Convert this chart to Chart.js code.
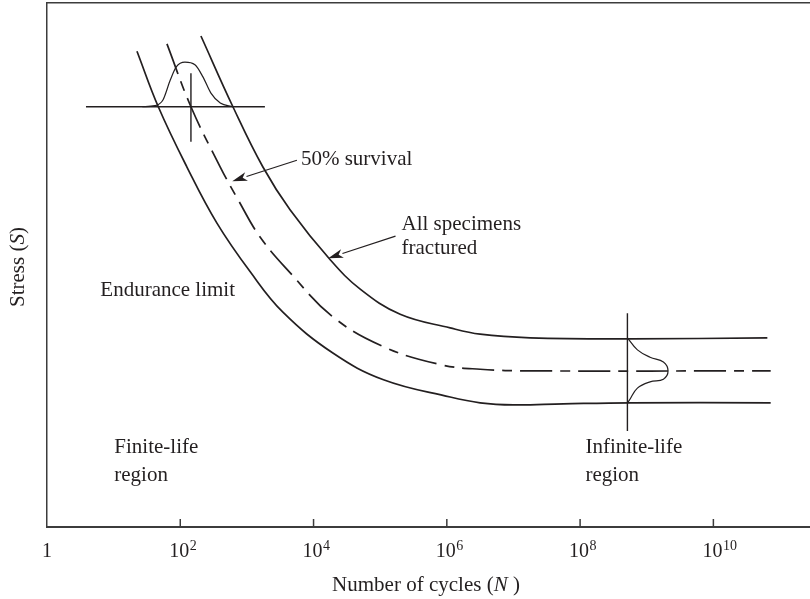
<!DOCTYPE html>
<html>
<head>
<meta charset="utf-8">
<script src="https://cdn.jsdelivr.net/npm/chart.js@4"></script>
<style>
  html, body { margin: 0; padding: 0; background: #fff; }
</style>
</head>
<body>
<canvas id="snChart" width="810" height="599"></canvas>
<script>
// x values are log10(N), y values are relative stress (0 - 100)
const tickExponents = [0, 2, 4, 6, 8, 10];

const fracturedLogN   = [2.31, 2.79, 3.24, 3.65, 4.25, 4.70, 5.30, 6.05, 6.50, 7.25, 8.75, 10.81];
const fracturedStress = [93.7, 80.2, 68.7, 60.5, 51.0, 45.4, 40.6, 38.0, 36.8, 36.1, 35.9, 36.1];

const survivalLogN   = [1.80, 2.16, 2.60, 2.87, 3.20, 3.65, 4.29, 5.05, 5.90, 6.50, 7.25, 10.86];
const survivalStress = [92.2, 80.2, 68.7, 62.4, 55.3, 48.5, 40.1, 34.4, 31.0, 30.1, 29.8, 29.8];

const lowerLogN   = [1.35, 1.67, 2.10, 2.55, 3.05, 3.54, 4.29, 5.05, 6.05, 6.50, 7.00, 7.75, 8.75, 10.86];
const lowerStress = [90.8, 80.2, 68.7, 58.0, 48.7, 41.0, 33.2, 28.1, 24.8, 23.7, 23.3, 23.5, 23.7, 23.7];

// scatter distribution at low N (bell on the horizontal stress line)
const lowBellLogN   = [1.43, 1.62, 1.74, 1.85, 1.94, 2.07, 2.22, 2.34, 2.46, 2.60, 2.79];
const lowBellStress = [80.2, 80.4, 81.5, 85.3, 87.8, 88.7, 88.2, 85.9, 82.8, 80.9, 80.2];

// scatter distribution at the endurance limit (bell on the vertical line)
const highBellLogN   = [8.71, 8.86, 9.05, 9.25, 9.32, 9.25, 9.05, 8.86, 8.74, 8.71];
const highBellStress = [36.1, 33.8, 32.4, 31.5, 29.8, 28.2, 27.7, 26.5, 24.2, 23.7];

const lowHorizLogN = [0.585, 3.27];
const lowHorizStress = [80.2, 80.2];
const lowVertLogN = [2.16, 2.16];
const lowVertStress = [86.6, 73.5];
const highVertLogN = [8.71, 8.71];
const highVertStress = [40.8, 18.3];

const ink = "#231f20";
const axisColor = "#3c3c3c";
const serif = "'Liberation Serif', 'Times New Roman', serif";
const xMax = 11.45;

const toPoints = (xs, ys) => xs.map((x, i) => ({ x: x, y: ys[i] }));

// text labels and arrows, placed in data coordinates
const notes = [
  { text: "50% survival", x: 3.81, y: 70.2 },
  { text: "All specimens", x: 5.32, y: 57.8 },
  { text: "fractured", x: 5.32, y: 53.1 },
  { text: "Endurance limit", x: 0.80, y: 45.2 },
  { text: "Finite-life", x: 1.01, y: 15.1 },
  { text: "region", x: 1.01, y: 9.9 },
  { text: "Infinite-life", x: 8.08, y: 15.1 },
  { text: "region", x: 8.08, y: 9.9 }
];
const arrows = [
  { from: [3.75, 70.0], to: [2.78, 66.0] },
  { from: [5.23, 55.5], to: [4.22, 51.3] }
];

function drawArrow(ctx, x1, y1, x2, y2) {
  const ang = Math.atan2(y2 - y1, x2 - x1);
  const len = 15, half = 4.5;
  const bx = x2 - len * Math.cos(ang), by = y2 - len * Math.sin(ang);
  ctx.beginPath();
  ctx.moveTo(x1, y1);
  ctx.lineTo(bx, by);
  ctx.stroke();
  ctx.beginPath();
  ctx.moveTo(x2, y2);
  ctx.lineTo(bx + half * Math.sin(ang), by - half * Math.cos(ang));
  ctx.lineTo(x2 - (len - 4) * Math.cos(ang), y2 - (len - 4) * Math.sin(ang));
  ctx.lineTo(bx - half * Math.sin(ang), by + half * Math.cos(ang));
  ctx.closePath();
  ctx.fill();
}

const decorations = {
  id: "decorations",
  afterDraw(chart) {
    const ctx = chart.ctx;
    const xs = chart.scales.x, ys = chart.scales.y;
    const area = chart.chartArea;
    ctx.save();
    ctx.fillStyle = ink;

    // inward tick marks + tick labels
    ctx.lineWidth = 1.5;
    ctx.strokeStyle = axisColor;
    xs.ticks.forEach(t => {
      const px = xs.getPixelForValue(t.value);
      if (t.value > 0) {
        ctx.beginPath();
        ctx.moveTo(px, area.bottom);
        ctx.lineTo(px, area.bottom - 8);
        ctx.stroke();
      }
      ctx.textBaseline = "alphabetic";
      ctx.font = "20px " + serif;
      ctx.textAlign = "center";
      if (t.value === 0) {
        ctx.fillText("1", px, 557);
      } else {
        ctx.fillText("10", px - 1, 557);
        const w = ctx.measureText("10").width;
        ctx.font = "14px " + serif;
        ctx.textAlign = "left";
        ctx.fillText(String(t.value), px - 1 + w / 2 + 0.5, 550);
      }
    });

    // annotations
    ctx.strokeStyle = ink;
    ctx.font = "21px " + serif;
    ctx.textAlign = "left";
    ctx.textBaseline = "middle";
    notes.forEach(n => {
      ctx.fillText(n.text, xs.getPixelForValue(n.x), ys.getPixelForValue(n.y));
    });
    ctx.lineWidth = 1.2;
    arrows.forEach(a => {
      drawArrow(ctx,
        xs.getPixelForValue(a.from[0]), ys.getPixelForValue(a.from[1]),
        xs.getPixelForValue(a.to[0]), ys.getPixelForValue(a.to[1]));
    });

    // axis titles
    ctx.textBaseline = "alphabetic";
    ctx.textAlign = "left";
    const partA = "Number of cycles (", partB = "N", partC = " )";
    ctx.font = "21px " + serif;
    const wA = ctx.measureText(partA).width, wC = ctx.measureText(partC).width;
    ctx.font = "italic 21px " + serif;
    const wB = ctx.measureText(partB).width;
    let sx = 426 - (wA + wB + wC) / 2;
    ctx.font = "21px " + serif;
    ctx.fillText(partA, sx, 591);
    ctx.font = "italic 21px " + serif;
    ctx.fillText(partB, sx + wA, 591);
    ctx.font = "21px " + serif;
    ctx.fillText(partC, sx + wA + wB, 591);

    ctx.translate(24, 267);
    ctx.rotate(-Math.PI / 2);
    const yA = "Stress (", yB = "S", yC = ")";
    ctx.font = "21px " + serif;
    const vA = ctx.measureText(yA).width, vC = ctx.measureText(yC).width;
    ctx.font = "italic 21px " + serif;
    const vB = ctx.measureText(yB).width;
    let sy = -(vA + vB + vC) / 2;
    ctx.font = "21px " + serif;
    ctx.fillText(yA, sy, 0);
    ctx.font = "italic 21px " + serif;
    ctx.fillText(yB, sy + vA, 0);
    ctx.font = "21px " + serif;
    ctx.fillText(yC, sy + vA + vB, 0);
    ctx.restore();
  }
};

const curve = (data, extra) => Object.assign({
  data: data,
  borderColor: ink,
  borderWidth: 1.7,
  pointRadius: 0,
  fill: false
}, extra);

new Chart(document.getElementById("snChart").getContext("2d"), {
  type: "line",
  data: {
    datasets: [
      curve(toPoints(fracturedLogN, fracturedStress), { label: "All specimens fractured", tension: 0.4 }),
      curve(toPoints(survivalLogN, survivalStress), { label: "50% survival", tension: 0.4, borderDash: [32, 8, 10, 8] }),
      curve(toPoints(lowerLogN, lowerStress), { label: "Lower bound", tension: 0.4 }),
      curve(toPoints(lowBellLogN, lowBellStress), { label: "Scatter (low N)", cubicInterpolationMode: "monotone", borderWidth: 1.2 }),
      curve(toPoints(highBellLogN, highBellStress), { label: "Scatter (high N)", tension: 0.4, borderWidth: 1.2 }),
      curve(toPoints(lowHorizLogN, lowHorizStress), { label: "h1", borderWidth: 1.4 }),
      curve(toPoints(lowVertLogN, lowVertStress), { label: "v1", borderWidth: 1.4 }),
      curve(toPoints(highVertLogN, highVertStress), { label: "v2", borderWidth: 1.4 })
    ]
  },
  options: {
    responsive: false,
    animation: false,
    devicePixelRatio: 1,
    layout: { padding: { top: 3, left: 0, right: 0, bottom: 0 } },
    plugins: { legend: { display: false }, tooltip: { enabled: false } },
    scales: {
      x: {
        type: "linear",
        min: 0,
        max: xMax,
        ticks: { display: false },
        grid: { display: false },
        border: { color: axisColor, width: 2 },
        afterBuildTicks: s => { s.ticks = tickExponents.map(v => ({ value: v })); },
        afterFit: s => { s.height = 72; }
      },
      xTop: {
        type: "linear",
        position: "top",
        min: 0,
        max: xMax,
        ticks: { display: false },
        grid: { display: false },
        border: { color: axisColor, width: 1.5 },
        afterFit: s => { s.height = 0; }
      },
      y: {
        min: 0,
        max: 100,
        ticks: { display: false },
        grid: { display: false },
        border: { color: axisColor, width: 1.5 },
        afterFit: s => { s.width = 47; }
      }
    }
  },
  plugins: [decorations]
});
</script>
</body>
</html>
